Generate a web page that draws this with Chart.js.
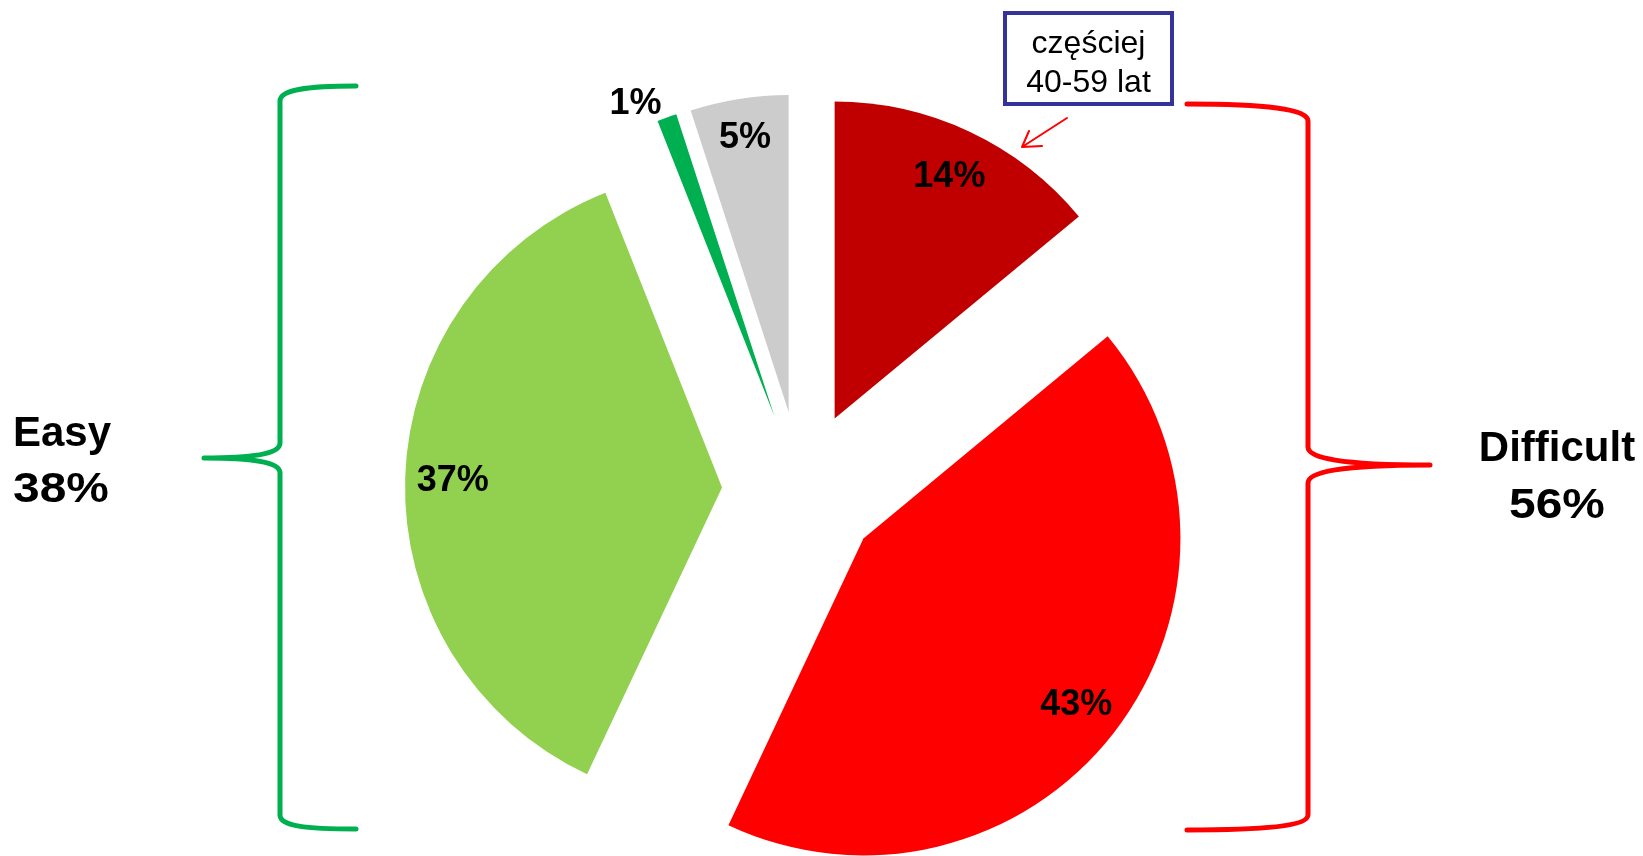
<!DOCTYPE html>
<html lang="pl">
<head>
<meta charset="UTF-8">
<title>Easy / Difficult</title>
<script src="https://cdn.jsdelivr.net/npm/chart.js@4"></script>
<style>
  html, body { margin: 0; padding: 0; background: #fff; }
  #wrap { width: 1643px; height: 856px; }
</style>
</head>
<body>
<div id="wrap"><canvas id="pie" width="1643" height="856"></canvas></div>
<script>
// data
const categories = ['Very difficult', 'Rather difficult', 'Rather easy', 'Very easy', 'Hard to say'];
const shares = [14, 43, 37, 1, 5];
const sliceColors = ['#C00000', '#FF0000', '#92D050', '#00B050', '#CCCCCC'];
const groupNames = ['Easy', 'Difficult'];
const groupShares = [38, 56];
const noteLines = ['częściej', '40-59 lat'];

const EXPLODE = 79; // every slice pulled out by the same distance
const FONT = '"Liberation Sans", Arial, sans-serif';

// draw each arc moved out along its middle angle
const explodePlugin = {
    id: 'explode',
    beforeDatasetDraw(chart, args) {
        const ctx = chart.ctx;
        args.meta.data.forEach(arc => {
            const mid = (arc.startAngle + arc.endAngle) / 2;
            ctx.save();
            ctx.translate(Math.cos(mid) * EXPLODE, Math.sin(mid) * EXPLODE);
            arc.draw(ctx);
            ctx.restore();
        });
        return false;
    }
};

const sliceLabels = {
    id: 'sliceLabels',
    afterDatasetsDraw(chart) {
        const ctx = chart.ctx;
        const arcs = chart.getDatasetMeta(0).data;
        ctx.save();
        ctx.font = 'bold 36px ' + FONT;
        ctx.fillStyle = '#000';
        ctx.textBaseline = 'middle';
        arcs.forEach((arc, i) => {
            const mid = (arc.startAngle + arc.endAngle) / 2;
            const inside = shares[i] >= 3;
            let k = 1.05;
            if (inside) k = shares[i] < 10 ? 0.88 : 0.85;
            const r = EXPLODE + arc.outerRadius * k;
            ctx.textAlign = inside ? 'center' : 'right';
            ctx.fillText(shares[i] + '%', arc.x + Math.cos(mid) * r, arc.y + Math.sin(mid) * r + 2);
        });
        ctx.restore();
    }
};

function wideText(ctx, text, x, y, sx) {
    ctx.save();
    ctx.translate(x, y);
    ctx.scale(sx, 1);
    ctx.fillText(text, 0, 0);
    ctx.restore();
}

// braces, group totals and the note box
const decorations = {
    id: 'decorations',
    afterDraw(chart) {
        const ctx = chart.ctx;
        ctx.save();
        ctx.lineCap = 'round';
        ctx.lineJoin = 'round';
        ctx.lineWidth = 5;

        // left brace (easy)
        ctx.strokeStyle = '#00B050';
        ctx.beginPath();
        ctx.moveTo(356, 86);
        ctx.bezierCurveTo(305, 86, 280, 90, 280, 101);
        ctx.lineTo(280, 443);
        ctx.bezierCurveTo(280, 452, 262, 458, 204, 458);
        ctx.bezierCurveTo(262, 458, 280, 464, 280, 473);
        ctx.lineTo(280, 815);
        ctx.bezierCurveTo(280, 826, 305, 829, 356, 829);
        ctx.stroke();

        // right brace (difficult)
        ctx.strokeStyle = '#FF0000';
        ctx.beginPath();
        ctx.moveTo(1187, 104);
        ctx.bezierCurveTo(1265, 104, 1308, 109, 1308, 121);
        ctx.lineTo(1308, 447);
        ctx.bezierCurveTo(1308, 458, 1340, 465, 1430, 465);
        ctx.bezierCurveTo(1340, 465, 1308, 472, 1308, 483);
        ctx.lineTo(1308, 815);
        ctx.bezierCurveTo(1308, 826, 1265, 830, 1187, 830);
        ctx.stroke();

        // group totals
        ctx.fillStyle = '#000';
        ctx.textBaseline = 'alphabetic';
        ctx.font = 'bold 42px ' + FONT;
        ctx.textAlign = 'left';
        wideText(ctx, groupNames[0], 13, 446, 1);
        wideText(ctx, groupShares[0] + '%', 13, 502, 1.14);
        ctx.textAlign = 'center';
        wideText(ctx, groupNames[1], 1557, 461, 1);
        wideText(ctx, groupShares[1] + '%', 1557, 518, 1.14);

        // note box
        ctx.strokeStyle = '#333399';
        ctx.lineWidth = 4;
        ctx.lineJoin = 'miter';
        ctx.strokeRect(1005, 13, 167, 91);
        ctx.font = '32px ' + FONT;
        ctx.fillText(noteLines[0], 1088.5, 53);
        ctx.fillText(noteLines[1], 1088.5, 92);

        // arrow to the 14% slice
        ctx.strokeStyle = '#FF0000';
        ctx.lineWidth = 2;
        ctx.lineJoin = 'round';
        ctx.beginPath();
        ctx.moveTo(1067, 118);
        ctx.lineTo(1022, 147);
        ctx.moveTo(1029, 131);
        ctx.lineTo(1022, 147);
        ctx.lineTo(1042, 146);
        ctx.stroke();

        ctx.restore();
    }
};

new Chart(document.getElementById('pie'), {
    type: 'pie',
    data: {
        labels: categories,
        datasets: [{
            data: shares,
            backgroundColor: sliceColors,
            borderWidth: 0
        }]
    },
    options: {
        responsive: false,
        animation: false,
        radius: 317,
        layout: { padding: { top: 124, bottom: 0, left: 0, right: 41 } },
        plugins: {
            legend: { display: false },
            tooltip: { enabled: false }
        }
    },
    plugins: [explodePlugin, sliceLabels, decorations]
});
</script>
</body>
</html>
